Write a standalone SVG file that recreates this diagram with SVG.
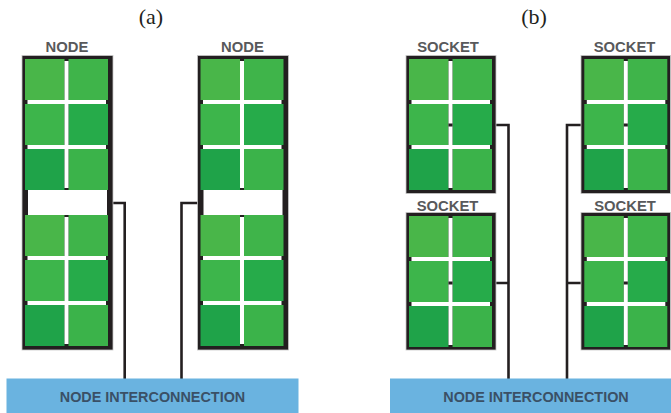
<svg xmlns="http://www.w3.org/2000/svg" xmlns:xlink="http://www.w3.org/1999/xlink" width="671" height="413" viewBox="0 0 671 413">
<style>
.frame{fill:#231F20;stroke:#C8C8C8;stroke-width:0.8}
.g1{fill:#49B649}.g2{fill:#3FB44A}.g3{fill:#3DB54B}.g4{fill:#26AB4A}.g5{fill:#1FA349}.g6{fill:#3BB34A}
.wd{fill:#FFFFFF}
.tick{fill:#231F20}
.lbl{font-family:"Liberation Sans",Arial,sans-serif;font-weight:bold;font-size:14.8px;fill:#58595B;text-anchor:middle}
.cap{font-family:"Liberation Serif","Times New Roman",serif;font-size:22px;fill:#231F20;text-anchor:middle}
.wire{fill:none;stroke:#231F20;stroke-width:2.6}
.bar{fill:#6AB3E0}
.bt{font-family:"Liberation Sans",Arial,sans-serif;font-weight:bold;font-size:14.4px;fill:#3A5066;text-anchor:middle}
</style>
<defs>
<g id="block">
<rect class="g1" x="0" y="0" width="39.5" height="41"/>
<rect class="g2" x="43.5" y="0" width="39.5" height="41"/>
<rect class="g3" x="0" y="45" width="39.5" height="41"/>
<rect class="g4" x="43.5" y="45" width="39.5" height="41"/>
<rect class="g5" x="0" y="90" width="39.5" height="41"/>
<rect class="g6" x="43.5" y="90" width="39.5" height="41"/>
<rect class="wd" x="39.5" y="2" width="4" height="127"/>
<rect class="wd" x="2.5" y="41" width="78.5" height="4"/>
<rect class="wd" x="2.5" y="86" width="78.5" height="4"/>
</g>
</defs>

<text class="cap" x="151" y="23.5">(a)</text>
<text class="cap" x="534" y="23.5">(b)</text>

<g id="conn">
<path class="wire" d="M112 203 H124.7 V379"/>
<path class="wire" d="M198 203 H181.5 V379"/>
<path class="wire" d="M496 125 H508.5 V379 M496 283 H508.5"/>
<path class="wire" d="M581 125 H567 V379 M581 283 H567"/>
</g>

<g id="node-a1">
<text class="lbl" x="67" y="52.3">NODE</text>
<rect class="frame" x="22" y="55.5" width="91" height="294.5"/>
<rect class="wd" x="28" y="190" width="79" height="25"/>
<use xlink:href="#block" x="25" y="59"/>
<use xlink:href="#block" x="25" y="215"/>
</g>

<g id="node-a2">
<text class="lbl" x="242.5" y="52.3">NODE</text>
<rect class="frame" x="197.5" y="55.5" width="91" height="294.5"/>
<rect class="wd" x="203.5" y="190" width="79" height="25"/>
<use xlink:href="#block" x="200.5" y="59"/>
<use xlink:href="#block" x="200.5" y="215"/>
</g>

<g id="socket-tl">
<text class="lbl" x="448" y="52.3">SOCKET</text>
<rect class="frame" x="406" y="55.5" width="90" height="138"/>
<use xlink:href="#block" x="409" y="59"/>
<rect class="tick" x="448.5" y="123.5" width="4" height="3"/>
</g>

<g id="socket-bl">
<text class="lbl" x="447.5" y="210.7">SOCKET</text>
<rect class="frame" x="406" y="212.5" width="90" height="137.5"/>
<use xlink:href="#block" x="409" y="216"/>
<rect class="tick" x="448.5" y="281.5" width="4" height="3"/>
</g>

<g id="socket-tr">
<text class="lbl" x="624.5" y="52.3">SOCKET</text>
<rect class="frame" x="581" y="55.5" width="89.5" height="138"/>
<use xlink:href="#block" x="584.3" y="59"/>
<rect class="tick" x="623.8" y="123.5" width="4" height="3"/>
</g>

<g id="socket-br">
<text class="lbl" x="625" y="210.7">SOCKET</text>
<rect class="frame" x="581" y="212.5" width="89.5" height="137.5"/>
<use xlink:href="#block" x="584.3" y="216"/>
<rect class="tick" x="623.8" y="281.5" width="4" height="3"/>
</g>

<g id="bar-a">
<rect class="bar" x="6.5" y="378.5" width="292" height="35"/>
<text class="bt" x="152.5" y="401.8">NODE INTERCONNECTION</text>
</g>

<g id="bar-b">
<rect class="bar" x="390" y="378.5" width="281" height="35"/>
<text class="bt" x="536" y="401.8">NODE INTERCONNECTION</text>
</g>
</svg>
